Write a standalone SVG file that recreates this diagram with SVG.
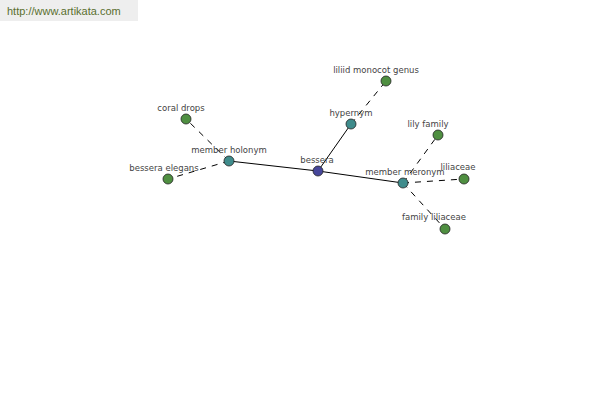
<svg xmlns="http://www.w3.org/2000/svg" width="600" height="400" viewBox="0 0 600 400">
<style>
.lbl{font-family:"DejaVu Sans","Liberation Sans",sans-serif;font-size:8.5px;fill:#444;text-anchor:middle}
.n{stroke:#222;stroke-width:0.8}
.root{fill:#46469a}
.rel{fill:#3f8c8c}
.leaf{fill:#4f8f41}
.s{stroke:#000;stroke-width:1;fill:none}
.d{stroke:#000;stroke-width:1;fill:none;stroke-dasharray:6,6}
</style>
<rect x="0" y="0" width="138" height="21" fill="#eeeeee"/>
<text x="7" y="15" font-family="Liberation Sans,Arial,sans-serif" font-size="11" fill="#5a6e2e">http://www.artikata.com</text>
<g id="connectors">
<line class="s" x1="318" y1="171" x2="229" y2="161"/>
<line class="s" x1="318" y1="171" x2="351" y2="124"/>
<line class="s" x1="318" y1="171" x2="403" y2="183"/>
<line class="d" x1="229" y1="161" x2="186" y2="119"/>
<line class="d" x1="229" y1="161" x2="168" y2="179"/>
<line class="d" x1="351" y1="124" x2="386" y2="81"/>
<line class="d" x1="403" y1="183" x2="438" y2="135"/>
<line class="d" x1="403" y1="183" x2="464" y2="179"/>
<line class="d" x1="403" y1="183" x2="445" y2="229"/>
</g>
<g id="bessera"><circle class="n root" cx="318" cy="171" r="5"/><text class="lbl" x="317" y="163">bessera</text></g>
<g id="member-holonym"><circle class="n rel" cx="229" cy="161" r="5"/><text class="lbl" x="229" y="153">member holonym</text></g>
<g id="hypernym"><circle class="n rel" cx="351" cy="124" r="5"/><text class="lbl" x="351" y="116">hypernym</text></g>
<g id="member-meronym"><circle class="n rel" cx="403" cy="183" r="5"/><text class="lbl" x="405" y="175">member meronym</text></g>
<g id="coral-drops"><circle class="n leaf" cx="186" cy="119" r="5"/><text class="lbl" x="181" y="111">coral drops</text></g>
<g id="bessera-elegans"><circle class="n leaf" cx="168" cy="179" r="5"/><text class="lbl" x="164" y="171">bessera elegans</text></g>
<g id="liliid-monocot-genus"><circle class="n leaf" cx="386" cy="81" r="5"/><text class="lbl" x="376" y="73">liliid monocot genus</text></g>
<g id="lily-family"><circle class="n leaf" cx="438" cy="135" r="5"/><text class="lbl" x="428" y="127">lily family</text></g>
<g id="liliaceae"><circle class="n leaf" cx="464" cy="179" r="5"/><text class="lbl" x="458" y="170">liliaceae</text></g>
<g id="family-liliaceae"><circle class="n leaf" cx="445" cy="229" r="5"/><text class="lbl" x="434" y="220">family liliaceae</text></g>
</svg>
